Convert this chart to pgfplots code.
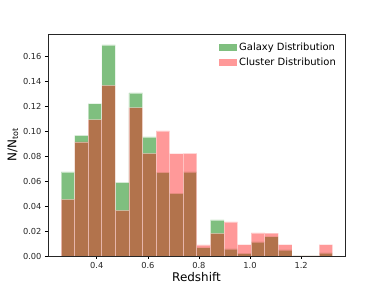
\documentclass[border=0pt]{standalone}
\usepackage{fontspec}
\setmainfont{DejaVu Sans}
\usepackage{pgfplots}
\pgfplotsset{compat=1.18}
\definecolor{mplgreen}{RGB}{0,128,0}
\definecolor{mplred}{RGB}{255,0,0}
\definecolor{leggreen}{RGB}{127,191,127}
\definecolor{legred}{RGB}{255,153,153}
\begin{document}
\begin{tikzpicture}[x=1bp,y=1bp]
\path[use as bounding box] (0,0) rectangle (384,288);
\begin{axis}[
  at={(48bp,32bp)}, anchor=south west,
  scale only axis, width=297bp, height=222bp,
  xmin=0.209, xmax=1.372, ymin=0, ymax=0.1776,
  xtick={0.4,0.6,0.8,1.0,1.2},
  ytick={0,0.02,0.04,0.06,0.08,0.10,0.12,0.14,0.16},
  xticklabel style={/pgf/number format/.cd,fixed,fixed zerofill,precision=1},
  yticklabel style={/pgf/number format/.cd,fixed,fixed zerofill,precision=2},
  /pgf/number format/assume math mode=true,
  tick label style={font=\fontsize{8.3}{10}\selectfont, text=black!85},
  tick align=outside, major tick length=3bp,
  tick style={black, line width=0.6bp},
  xtick pos=bottom, ytick pos=left,
  axis line style={black!85, line width=0.7bp},
  xlabel={Redshift}, ylabel={N/N\textsubscript{tot}},
  label style={font=\fontsize{12}{14}\selectfont},
  xlabel style={yshift=3bp},
  ylabel style={yshift=-2bp},
  legend style={draw=none, fill=none, at={(1,1)}, anchor=north east,
    xshift=-4bp, yshift=-5bp, font=\fontsize{10}{12}\selectfont,
    row sep=1.5bp},
  legend cell align=left,
  axis on top,
]
\addplot[ybar interval, fill=mplgreen, fill opacity=0.5, draw=white, draw opacity=0.5, line width=0.8bp,
  legend image code/.code={\path[fill=leggreen, draw=none, fill opacity=1] (0bp,-3.5bp) rectangle (18bp,3.5bp);}]
coordinates {
(0.2600,0.0672) (0.3132,0.0965) (0.3664,0.1219) (0.4196,0.1688) (0.4728,0.0589)
(0.5260,0.1304) (0.5792,0.0952) (0.6324,0.0669) (0.6856,0.0501) (0.7388,0.0672)
(0.7920,0.0067) (0.8452,0.0288) (0.8984,0.0056) (0.9516,0.0021) (1.0048,0.0112)
(1.0580,0.0155) (1.1112,0.0048) (1.1644,0) (1.2176,0) (1.2708,0.0024) (1.3240,0.0024)
};
\addlegendentry{Galaxy Distribution}
\addplot[ybar interval, fill=mplred, fill opacity=0.4, draw=white, draw opacity=0.4, line width=0.8bp,
  legend image code/.code={\path[fill=legred, draw=none, fill opacity=1] (0bp,-3.5bp) rectangle (18bp,3.5bp);}]
coordinates {
(0.2600,0.0453) (0.3132,0.0912) (0.3664,0.1090) (0.4196,0.1365) (0.4728,0.0365)
(0.5260,0.1187) (0.5792,0.0821) (0.6324,0.1000) (0.6856,0.0819) (0.7388,0.0820)
(0.7920,0.0088) (0.8452,0.0181) (0.8984,0.0272) (0.9516,0.0090) (1.0048,0.0184)
(1.0580,0.0182) (1.1112,0.0090) (1.1644,0) (1.2176,0) (1.2708,0.0090) (1.3240,0.0090)
};
\addlegendentry{Cluster Distribution}
\end{axis}
\end{tikzpicture}
\end{document}
